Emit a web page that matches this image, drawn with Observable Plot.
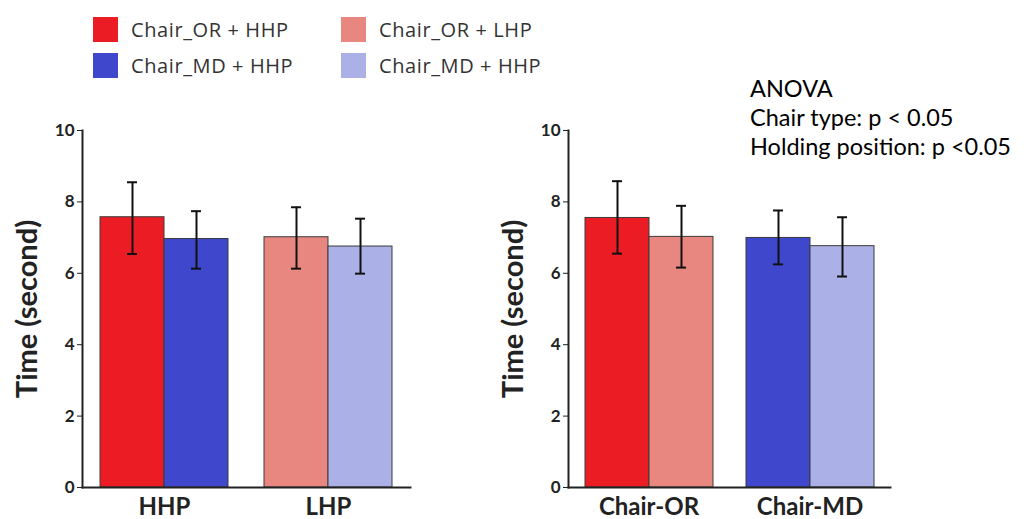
<!DOCTYPE html>
<html>
<head>
<meta charset="utf-8">
<script src="https://cdn.jsdelivr.net/npm/d3@7"></script>
<script src="https://cdn.jsdelivr.net/npm/@observablehq/plot@0.6"></script>
<style>
  html, body { margin: 0; padding: 0; background: #fff; }
  #root { position: relative; width: 1029px; height: 519px; overflow: hidden; font-family: "Open Sans", sans-serif; }
  .panel { position: absolute; top: 110px; }
  .legend { position: absolute; font-size: 20px; letter-spacing: 0.6px; color: #333; }
  .legend .item { position: absolute; white-space: nowrap; display: flex; align-items: center; }
  .legend .sw { width: 25px; height: 25px; margin-right: 13px; }
  .anova { position: absolute; left: 750px; top: 74px; font-family: Lato, sans-serif; font-size: 23.5px; line-height: 29px; color: #000; white-space: nowrap; }
</style>
</head>
<body>
<div id="root"></div>
<script>
// ---- data ----
const seriesKeys = ["Chair_OR + HHP", "Chair_MD + HHP", "Chair_OR + LHP", "Chair_MD + LHP"];
const seriesLabels = ["Chair_OR + HHP", "Chair_MD + HHP", "Chair_OR + LHP", "Chair_MD + HHP"];
const seriesColors = ["#ec1c24", "#3f48cc", "#e8877f", "#abb1e6"];

// left panel: grouped by holding position, bars by chair type
const leftGroups = ["HHP", "HHP", "LHP", "LHP"];
const leftSub = ["Chair_OR", "Chair_MD", "Chair_OR", "Chair_MD"];
const leftSeries = ["Chair_OR + HHP", "Chair_MD + HHP", "Chair_OR + LHP", "Chair_MD + LHP"];
const leftMean = [7.57, 6.96, 7.01, 6.75];
const leftHi = [8.55, 7.74, 7.85, 7.53];
const leftLo = [6.54, 6.13, 6.13, 5.99];

// right panel: grouped by chair type, bars by holding position
const rightGroups = ["Chair-OR", "Chair-OR", "Chair-MD", "Chair-MD"];
const rightSub = ["HHP", "LHP", "HHP", "LHP"];
const rightSeries = ["Chair_OR + HHP", "Chair_OR + LHP", "Chair_MD + HHP", "Chair_MD + LHP"];
const rightMean = [7.55, 7.02, 6.99, 6.76];
const rightHi = [8.58, 7.89, 7.76, 7.57];
const rightLo = [6.55, 6.16, 6.25, 5.91];

const yTicks = [0, 2, 4, 6, 8, 10];
const anovaLines = ["ANOVA", "Chair type: p < 0.05", "Holding position: p <0.05"];

// ---- build ----
const root = document.getElementById("root");

function rows(groups, sub, series, mean, hi, lo) {
  return groups.map((g, i) => ({group: g, sub: sub[i], series: series[i], mean: mean[i], hi: hi[i], lo: lo[i]}));
}

function panel(data, left, width, subPad) {
  const groupDomain = [...new Set(data.map(d => d.group))];
  const subDomain = [...new Set(data.map(d => d.sub))];
  const chart = Plot.plot({
    width, height: 409,
    marginLeft: 82, marginRight: 10, marginTop: 20, marginBottom: 32,
    style: {fontFamily: "Lato, sans-serif", background: "transparent", overflow: "visible"},
    fx: {domain: groupDomain, padding: 0, label: null},
    x: {domain: subDomain, paddingInner: 0, paddingOuter: subPad, axis: null},
    y: {domain: [0, 10]},
    color: {domain: seriesKeys, range: seriesColors},
    marks: [
      Plot.barY(data, {fx: "group", x: "sub", y: "mean", fill: "series", stroke: "#3a3a3a", strokeWidth: 1}),
      Plot.ruleX(data, {fx: "group", x: "sub", y1: "lo", y2: "hi", stroke: "#111", strokeWidth: 2}),
      Plot.tickY(data, {fx: "group", x: "sub", y: "hi", stroke: "#111", strokeWidth: 2, insetLeft: 27, insetRight: 27}),
      Plot.tickY(data, {fx: "group", x: "sub", y: "lo", stroke: "#111", strokeWidth: 2, insetLeft: 27, insetRight: 27}),
      Plot.frame({anchor: "bottom", facet: "super", stroke: "#222", strokeWidth: 2}),
      Plot.frame({anchor: "left", facet: "super", stroke: "#222", strokeWidth: 2}),
      Plot.axisY({ticks: yTicks, tickFormat: d3.format("d"), tickSize: 5, tickPadding: 3,
        fontSize: 17, fontWeight: "bold", color: "#222",
        label: "Time (second)", labelAnchor: "center", labelOffset: 66, labelArrow: "none"}),
      Plot.axisFx({anchor: "bottom", tickSize: 0, tickPadding: 10, fontSize: 24, fontWeight: "bold", color: "#222", label: null})
    ]
  });
  const wrap = document.createElement("div");
  wrap.className = "panel";
  wrap.style.left = left + "px";
  wrap.appendChild(chart);
  root.appendChild(wrap);
  return chart;
}

panel(rows(leftGroups, leftSub, leftSeries, leftMean, leftHi, leftLo), 0, 420, 0.27);
panel(rows(rightGroups, rightSub, rightSeries, rightMean, rightHi, rightLo), 486, 414, 0.25);

// legend
const legend = document.createElement("div");
legend.className = "legend";
root.appendChild(legend);
const legendPos = [[93, 16], [93, 52], [341, 16], [341, 52]];
seriesLabels.forEach((lab, i) => {
  const it = document.createElement("div");
  it.className = "item";
  it.style.left = legendPos[i][0] + "px";
  it.style.top = legendPos[i][1] + "px";
  const sw = document.createElement("span");
  sw.className = "sw";
  sw.style.background = seriesColors[i];
  const tx = document.createElement("span");
  tx.textContent = lab;
  it.appendChild(sw); it.appendChild(tx);
  legend.appendChild(it);
});

// ANOVA annotation
const an = document.createElement("div");
an.className = "anova";
anovaLines.forEach(l => { const d = document.createElement("div"); d.textContent = l; an.appendChild(d); });
root.appendChild(an);

// y-axis label style: bold, larger
document.querySelectorAll(".panel svg [aria-label='y-axis label'] text").forEach(t => {
  t.setAttribute("font-size", 29);
  t.setAttribute("font-weight", "bold");
});
</script>
</body>
</html>
